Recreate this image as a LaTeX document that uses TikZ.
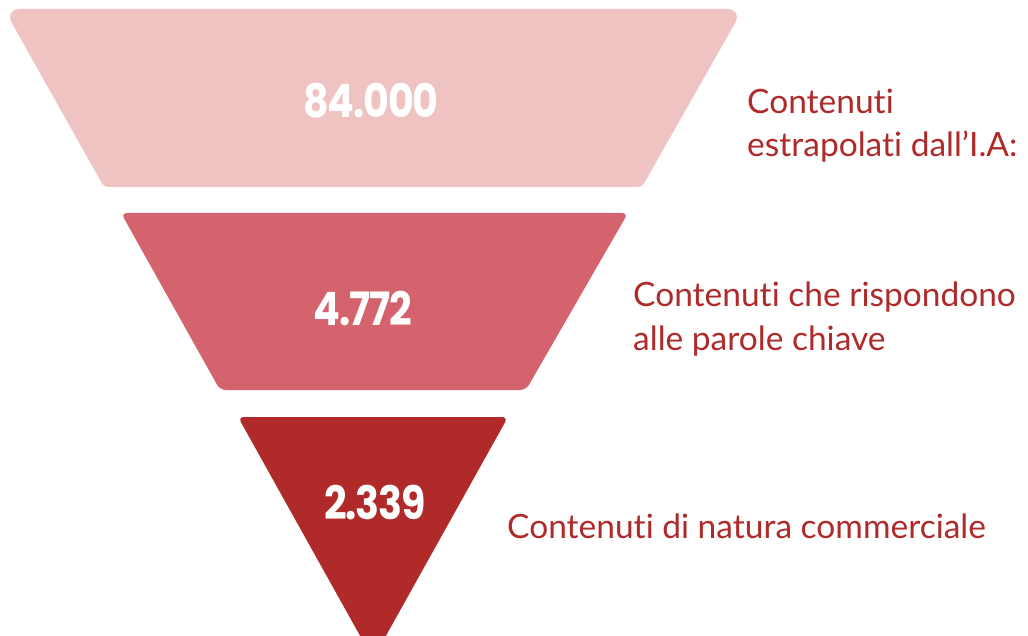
\documentclass[tikz,border=0pt]{standalone}
\usepackage{fontspec}
\setmainfont{Lato}[Ligatures={NoCommon}]
\newfontfamily\numfont{Poppins}[LetterSpace=-3]
\definecolor{cTop}{HTML}{EFC3C1}
\definecolor{cMid}{HTML}{D5636D}
\definecolor{cBot}{HTML}{AF2A28}
\definecolor{cText}{HTML}{AF2A2A}
\newcommand{\numtxt}[1]{\scalebox{0.86}[1]{#1}}
\begin{document}
\begin{tikzpicture}[x=1pt,y=-1pt,
  numlabel/.style={text=white,font=\numfont\bfseries\fontsize{46}{46}\selectfont,inner sep=0pt},
  sidelabel/.style={text=cText,font=\fontsize{33.5}{43.5}\selectfont,align=left,anchor=base west,inner sep=0pt}]
\useasboundingbox (0,0) rectangle (1028,636);
\clip (0,0) rectangle (1028,636);
% top band
\fill[cTop] (373,9) [rounded corners=16pt] -- (743,9) [rounded corners=4pt] -- (642,187) -- (104,187) [rounded corners=16pt] -- (4,9) [rounded corners=4pt] -- cycle;
% middle band
\fill[cMid,rounded corners=6pt] (373,213) -- (628,213) -- (526,390) -- (220,390) -- (121,213) -- cycle;
% bottom triangle
\fill[cBot,rounded corners=6pt] (373,417) -- (508,417) -- (373,659) -- (238,417) -- cycle;
% numbers
\node[numlabel] (n1) at (371,101) {\numtxt{84.000}};
\node[numlabel] (n2) at (363,309) {\numtxt{4.772}};
\node[numlabel] (n3) at (375,503) {\numtxt{2.339}};
% labels
\node[sidelabel] (l1) at (747,157) {Contenuti\\estrapolati dall’I.A:};
\node[sidelabel] (l2) at (633,350) {Contenuti che rispondono\\alle parole chiave};
\node[sidelabel] (l3) at (507,538) {Contenuti di natura commerciale};
\end{tikzpicture}
\end{document}
